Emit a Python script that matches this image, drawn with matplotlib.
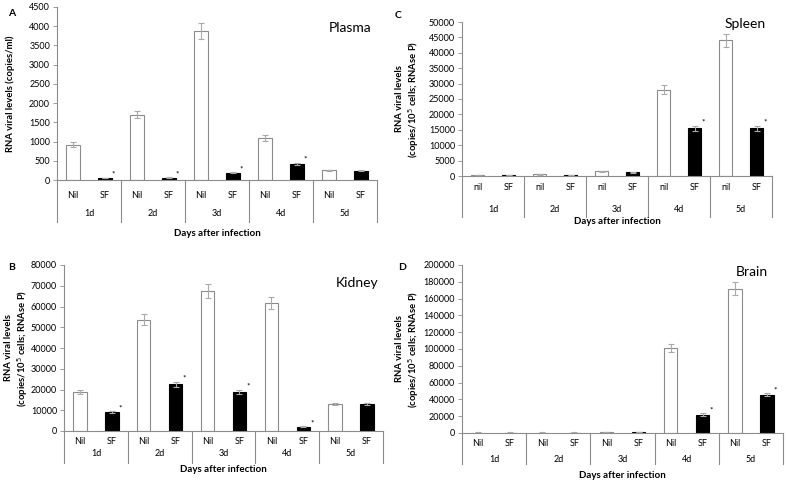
import matplotlib
matplotlib.use("Agg")
import matplotlib.pyplot as plt
from matplotlib.transforms import blended_transform_factory
from matplotlib.ticker import FuncFormatter, MultipleLocator

plt.rcParams['font.family'] = ['Lato', 'DejaVu Sans']

W, H = 787, 484
fig = plt.figure(figsize=(W / 100, H / 100), dpi=100)

days = ['1d', '2d', '3d', '4d', '5d']

plasma_nil = [920, 1700, 3880, 1090, 250]
plasma_nil_err = [70, 90, 200, 70, 10]
plasma_sf = [50, 60, 190, 420, 240]
plasma_sf_err = [10, 10, 15, 30, 10]
plasma_star = [True, True, True, True, False]

spleen_nil = [400, 500, 1500, 28000, 44000]
spleen_nil_err = [50, 50, 100, 1500, 2200]
spleen_sf = [400, 400, 1200, 15500, 15500]
spleen_sf_err = [50, 50, 100, 800, 800]
spleen_star = [False, False, False, True, True]

kidney_nil = [18800, 53700, 67400, 61600, 13000]
kidney_nil_err = [1000, 2800, 3300, 3000, 500]
kidney_sf = [9000, 22600, 18900, 2000, 12900]
kidney_sf_err = [500, 1200, 1000, 300, 500]
kidney_star = [True, True, True, True, False]

brain_nil = [500, 500, 1200, 101000, 172000]
brain_nil_err = [100, 100, 200, 5000, 8000]
brain_sf = [500, 500, 1000, 22000, 45500]
brain_sf_err = [100, 100, 200, 1500, 2000]
brain_star = [False, False, False, True, True]

GRAY = '#8c8c8c'


def panel(box, letter, letter_xy, title, title_xy, nil, nil_err, sf, sf_err, star,
          ymax, ystep, ylabel, ylabel_x, grp_labels, offs):
    l, t, r, b = box
    ax = fig.add_axes([l / W, 1 - b / H, (r - l) / W, (b - t) / H])
    hpx = b - t
    xs_nil = [2 * i + 0.5 for i in range(5)]
    xs_sf = [2 * i + 1.5 for i in range(5)]
    ax.bar(xs_nil, nil, width=0.42, color='white', edgecolor=GRAY, linewidth=0.8,
           yerr=nil_err, error_kw=dict(ecolor='#aaaaaa', elinewidth=0.8, capsize=2, capthick=0.8))
    ax.bar(xs_sf, sf, width=0.42, color='black', edgecolor='black', linewidth=0.8,
           yerr=sf_err, error_kw=dict(ecolor='#aaaaaa', elinewidth=0.8, capsize=2, capthick=0.8))
    for x, v, e, s in zip(xs_sf, sf, sf_err, star):
        if s:
            ax.text(x + 0.27, v + e, '*', fontsize=6, ha='center', va='bottom')
    ax.set_xlim(0, 10)
    ax.set_ylim(0, ymax)
    ax.yaxis.set_major_locator(MultipleLocator(ystep))
    ax.yaxis.set_major_formatter(FuncFormatter(lambda v, p: f"{int(round(v))}"))
    ax.tick_params(axis='y', labelsize=6.5, length=3, width=0.6, color=GRAY, pad=2)
    ax.tick_params(axis='x', bottom=False, labelbottom=False)
    for sp in ['top', 'right']:
        ax.spines[sp].set_visible(False)
    for sp in ['left', 'bottom']:
        ax.spines[sp].set_color(GRAY)
        ax.spines[sp].set_linewidth(0.8)
    tr = blended_transform_factory(ax.transData, ax.transAxes)
    cat_off, day_off, div_off, xl_off = offs
    for i in range(5):
        ax.text(xs_nil[i], -cat_off / hpx, grp_labels[0], transform=tr, ha='center', va='center', fontsize=6.5)
        ax.text(xs_sf[i], -cat_off / hpx, grp_labels[1], transform=tr, ha='center', va='center', fontsize=6.5)
        ax.text(2 * i + 1, -day_off / hpx, days[i], transform=tr, ha='center', va='center', fontsize=6.5)
    for d in range(0, 11, 2):
        ax.plot([d, d], [0, -div_off / hpx], transform=tr, color=GRAY, lw=0.8, clip_on=False)
    ax.text(5, -xl_off / hpx, 'Days after infection', transform=tr, ha='center', va='center',
            fontsize=7, fontweight='bold')
    fig.text(letter_xy[0] / W, 1 - letter_xy[1] / H, letter, fontsize=7.5, fontweight='bold',
             ha='left', va='center')
    fig.text(title_xy[0] / W, 1 - title_xy[1] / H, title, fontsize=10, ha='center', va='center')
    fig.text(ylabel_x / W, 1 - (t + b) / 2 / H, ylabel, rotation=90, fontsize=6.8,
             fontweight='bold', ha='center', va='center', linespacing=1.3)
    return ax


panel((57, 7, 377, 180), 'A', (8, 14), 'Plasma', (350, 28),
      plasma_nil, plasma_nil_err, plasma_sf, plasma_sf_err, plasma_star,
      4500, 500, 'RNA viral levels (copies/ml)', 10, ('Nil', 'SF'), (15, 33, 42, 53))

panel((462, 22, 772, 176), 'C', (395, 15), 'Spleen', (745, 24),
      spleen_nil, spleen_nil_err, spleen_sf, spleen_sf_err, spleen_star,
      50000, 5000, 'RNA viral levels\n(copies/10$^5$ cells; RNAse P)', 408, ('nil', 'SF'), (12, 33, 41, 45))

panel((64, 265, 383, 431), 'B', (8, 268), 'Kidney', (357, 283),
      kidney_nil, kidney_nil_err, kidney_sf, kidney_sf_err, kidney_star,
      80000, 10000, 'RNA viral levels\n(copies/10$^5$ cells; RNAse P)', 17, ('Nil', 'SF'), (11, 23, 32, 39))

panel((462, 265, 783, 433), 'D', (398, 268), 'Brain', (752, 272),
      brain_nil, brain_nil_err, brain_sf, brain_sf_err, brain_star,
      200000, 20000, 'RNA viral levels\n(copies/10$^5$ cells; RNAse P)', 408, ('Nil', 'SF'), (11, 27, 31, 43))

fig.savefig('out.png', dpi=100)
